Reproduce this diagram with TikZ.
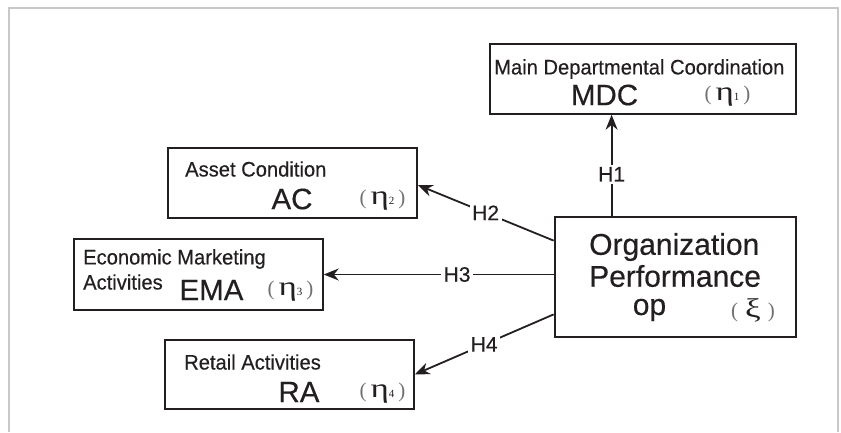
\documentclass[tikz,border=0pt]{standalone}
\usepackage{fontspec}
\setmainfont{Liberation Sans}[FakeBold=0.4]
\newfontfamily\condf{Liberation Sans}[FakeStretch=0.96,FakeBold=0.4]
\newfontfamily\serifgr{Liberation Serif}[FakeStretch=1.3]
\newfontfamily\serifpar{Liberation Serif}
\usetikzlibrary{arrows.meta}
\definecolor{ink}{HTML}{231F20}
\definecolor{framegray}{HTML}{C8C8C8}
\definecolor{pargray}{HTML}{707070}
\newcommand{\etalab}[1]{{\serifpar\fontsize{21}{21}\selectfont{\color{pargray}(}\hspace{4pt}{\serifgr\fontsize{27}{27}\selectfont η}{\serifpar\fontsize{11}{11}\selectfont #1}\hspace{4pt}{\color{pargray})}}}
\begin{document}
\begin{tikzpicture}[x=1pt,y=-1pt,
  box/.style={draw=ink,line width=1.5pt,rectangle,inner sep=0pt},
  thickbox/.style={draw=ink,line width=2.8pt,rectangle,inner sep=0pt},
  ttl/.style={inner sep=0pt,anchor=west,font=\condf\fontsize{21}{21}\selectfont,text=ink},
  abbr/.style={inner sep=0pt,font=\fontsize{29.5}{29.5}\selectfont,text=ink},
  optxt/.style={inner sep=0pt,font=\fontsize{30}{30}\selectfont,text=ink},
  grk/.style={inner sep=0pt,text=ink},
  arr/.style={draw=ink,line width=1.8pt,-{Stealth[length=15pt,width=12pt]}},
  hlab/.style={fill=white,inner sep=2.5pt,font=\fontsize{21}{21}\selectfont,text=ink}]
\useasboundingbox (0,0) rectangle (841,432);
\draw[framegray,line width=2pt] (9,432) -- (9,8) -- (838,8) -- (838,432);
% boxes
\node[box,minimum width=306pt,minimum height=70pt] (mdc) at (643,79) {};
\node[box,minimum width=249pt,minimum height=70pt] (ac) at (292.5,183) {};
\node[box,minimum width=249pt,minimum height=71pt] (ema) at (198.5,274.5) {};
\node[box,minimum width=249pt,minimum height=69pt] (ra) at (289.5,374.5) {};
\node[thickbox,minimum width=241pt,minimum height=120pt] (op) at (675.5,277) {};
% texts
\node[ttl] (mdct) at (494,69) {Main Departmental Coordination};
\node[abbr] (mdca) at (604.5,95) {MDC};
\node[grk] (mdcg) at (727.5,96) {\etalab{1}};
\node[ttl] (act) at (185,169) {Asset Condition};
\node[abbr] (aca) at (292,199) {AC};
\node[grk] (acg) at (382.5,200) {\etalab{2}};
\node[ttl] (emat) at (83,259) {Economic Marketing};
\node[ttl] (emat2) at (83,282) {Activities};
\node[abbr] (emaa) at (211.5,290) {EMA};
\node[grk] (emag) at (290.5,291) {\etalab{3}};
\node[ttl] (rat) at (184,362) {Retail Activities};
\node[abbr] (raa) at (299,392) {RA};
\node[grk] (rag) at (382.5,393) {\etalab{4}};
\node[optxt,anchor=west] (op1) at (589,247) {Organization};
\node[optxt,anchor=west] (op2) at (589,276) {Performance};
\node[optxt] (op3) at (649.5,310) {op};
\node[grk] (opg) at (753,310) {{\serifpar\fontsize{21}{21}\selectfont{\color{pargray}(}\hspace{7pt}{\serifgr\fontsize{27}{27}\selectfont ξ}\hspace{7pt}{\color{pargray})}}};
% connectors
\draw[arr] ([xshift=58pt]op.north west) -- node[hlab,pos=0.41] {H1} ([xshift=58pt]op.north west |- mdc.south);
\draw[arr] ([yshift=-25pt]op.north west) -- node[hlab,pos=0.5] {H2} ([yshift=-2pt]ac.east);
\draw[arr] (ema.east -| op.west) -- node[hlab,pos=0.42] {H3} (ema.east);
\draw[arr] ([yshift=24pt]op.south west) -- node[hlab,pos=0.5] {H4} (ra.east);
\end{tikzpicture}
\end{document}
